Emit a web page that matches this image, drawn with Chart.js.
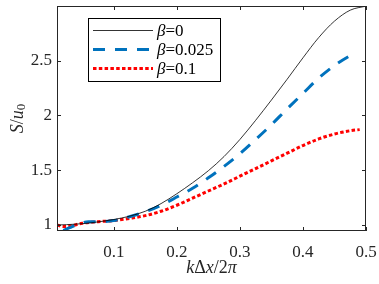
<!DOCTYPE html>
<html>
<head>
<meta charset="utf-8">
<script src="https://cdn.jsdelivr.net/npm/chart.js@4.4.0/dist/chart.umd.min.js"></script>
<style>
  html, body { margin: 0; padding: 0; background: #fff; }
  #wrap { width: 379px; height: 284px; }
</style>
</head>
<body>
<div id="wrap"><canvas id="chart"></canvas></div>
<script>
// k*dx/2pi sample positions and S/u0 values
const xBlack = [0.01, 0.025, 0.05, 0.075, 0.1, 0.125, 0.15, 0.175, 0.2, 0.225, 0.25, 0.275, 0.3, 0.325, 0.35, 0.375, 0.4, 0.425, 0.45, 0.475, 0.5];
const beta0 = [1.00, 1.003, 1.012, 1.028, 1.05, 1.08, 1.125, 1.195, 1.285, 1.385, 1.495, 1.625, 1.78, 1.955, 2.14, 2.33, 2.525, 2.71, 2.86, 2.96, 2.997];

const xBlue = [0.02, 0.03, 0.045, 0.06, 0.075, 0.1, 0.125, 0.15, 0.175, 0.2, 0.225, 0.25, 0.275, 0.3, 0.325, 0.35, 0.375, 0.4, 0.425, 0.45, 0.475, 0.48];
const beta025 = [0.95, 0.975, 1.01, 1.03, 1.03, 1.04, 1.075, 1.12, 1.18, 1.255, 1.335, 1.43, 1.535, 1.65, 1.78, 1.915, 2.06, 2.20, 2.34, 2.455, 2.545, 2.56];

const xRed = [0.01, 0.02, 0.03, 0.05, 0.075, 0.1, 0.125, 0.15, 0.175, 0.2, 0.225, 0.25, 0.275, 0.3, 0.325, 0.35, 0.375, 0.4, 0.425, 0.45, 0.475, 0.49];
const beta1 = [1.0, 0.985, 0.99, 1.015, 1.03, 1.04, 1.06, 1.085, 1.125, 1.18, 1.245, 1.31, 1.375, 1.445, 1.515, 1.585, 1.655, 1.725, 1.785, 1.83, 1.86, 1.87];

const legendLabels = ['0', '0.025', '0.1'];
const xTicks = [0.1, 0.2, 0.3, 0.4, 0.5];
const yTicks = [1, 1.5, 2, 2.5];

const SERIF = '"Liberation Serif"';
const AXIS_COLOR = '#262626';

function pts(xs, ys) {
  return xs.map((x, i) => ({ x: x, y: ys[i] }));
}

// draw a run of text pieces with mixed italic / upright styles
function drawPieces(ctx, pieces, x, y, size, align) {
  let total = 0;
  pieces.forEach(p => {
    ctx.font = (p.it ? 'italic ' : '') + Math.round(p.sub ? size * 0.7 : size) + 'px ' + SERIF;
    p.w = ctx.measureText(p.t).width;
    total += p.w;
  });
  let cx = align === 'center' ? x - total / 2 : x;
  pieces.forEach(p => {
    ctx.font = (p.it ? 'italic ' : '') + Math.round(p.sub ? size * 0.7 : size) + 'px ' + SERIF;
    ctx.fillText(p.t, cx, p.sub ? y + size * 0.22 : y);
    cx += p.w;
  });
}

const framePlugin = {
  id: 'frame',
  afterDatasetsDraw(chart) {
    const { ctx, chartArea: { left, right, top, bottom }, scales: { x, y } } = chart;
    ctx.save();
    ctx.strokeStyle = AXIS_COLOR;
    ctx.lineWidth = 1;
    ctx.strokeRect(left + 0.5, top + 0.5, right - left - 1, bottom - top - 1);
    ctx.beginPath();
    xTicks.forEach(v => {
      const px = Math.round(x.getPixelForValue(v)) + 0.5;
      ctx.moveTo(px, bottom); ctx.lineTo(px, bottom - 4);
      ctx.moveTo(px, top); ctx.lineTo(px, top + 4);
    });
    yTicks.forEach(v => {
      const py = Math.round(y.getPixelForValue(v)) + 0.5;
      ctx.moveTo(left, py); ctx.lineTo(left + 4, py);
      ctx.moveTo(right, py); ctx.lineTo(right - 4, py);
    });
    ctx.stroke();

    // legend box
    const lx = left + 31, ly = top + 12, lw = 132, lh = 63;
    ctx.fillStyle = '#fff';
    ctx.fillRect(lx, ly, lw, lh);
    ctx.strokeStyle = '#000';
    ctx.lineWidth = 1;
    ctx.strokeRect(lx + 0.5, ly + 0.5, lw, lh);
    chart.data.datasets.forEach((ds, i) => {
      const ry = ly + 12.5 + i * 19;
      ctx.save();
      ctx.strokeStyle = ds.borderColor;
      ctx.lineWidth = ds.borderWidth;
      ctx.setLineDash(ds.borderDash || []);
      ctx.beginPath();
      ctx.moveTo(lx + 5, ry);
      ctx.lineTo(lx + 65, ry);
      ctx.stroke();
      ctx.restore();
      ctx.fillStyle = '#000';
      ctx.textBaseline = 'middle';
      drawPieces(ctx, [{ t: 'β', it: true }, { t: '=' + legendLabels[i] }], lx + 69, ry + 1, 17, 'left');
    });

    // axis titles
    ctx.fillStyle = AXIS_COLOR;
    ctx.textBaseline = 'middle';
    drawPieces(ctx, [{ t: 'k', it: true }, { t: 'Δ' }, { t: 'x', it: true }, { t: '/2' }, { t: 'π', it: true }],
      (left + right) / 2, 268, 18, 'center');
    ctx.save();
    ctx.translate(18, (top + bottom) / 2);
    ctx.rotate(-Math.PI / 2);
    drawPieces(ctx, [{ t: 'S', it: true }, { t: '/' }, { t: 'u', it: true }, { t: '0', sub: true }], 0, 0, 18, 'center');
    ctx.restore();
    ctx.restore();
  }
};

function noPad(s) {
  s.paddingLeft = 0; s.paddingRight = 0; s.paddingTop = 0; s.paddingBottom = 0;
}

const ctx = document.getElementById('chart').getContext('2d');
new Chart(ctx, {
  type: 'line',
  data: {
    datasets: [
      { label: 'β=0', data: pts(xBlack, beta0), borderColor: '#000000', borderWidth: 0.8 },
      { label: 'β=0.025', data: pts(xBlue, beta025), borderColor: 'rgb(0,114,189)', borderWidth: 3, borderDash: [12, 10] },
      { label: 'β=0.1', data: pts(xRed, beta1), borderColor: 'rgb(255,0,0)', borderWidth: 3, borderDash: [3.5, 2.3] }
    ]
  },
  options: {
    responsive: true,
    maintainAspectRatio: false,
    animation: false,
    layout: { padding: { top: 6, right: 13, left: 0, bottom: 0 } },
    elements: {
      point: { radius: 0 },
      line: { cubicInterpolationMode: 'monotone', borderCapStyle: 'butt' }
    },
    plugins: {
      legend: { display: false },
      tooltip: { enabled: false }
    },
    scales: {
      x: {
        type: 'linear',
        min: 0.01,
        max: 0.5,
        afterBuildTicks: s => { s.ticks = xTicks.map(v => ({ value: v })); },
        afterFit: s => { s.height = 53; noPad(s); },
        grid: { display: false, drawTicks: false },
        border: { display: false },
        ticks: {
          padding: 11,
          color: AXIS_COLOR,
          font: { family: SERIF, size: 17 },
          maxRotation: 0,
          autoSkip: false,
          callback: v => String(v)
        }
      },
      y: {
        type: 'linear',
        min: 0.945,
        max: 2.998,
        afterBuildTicks: s => { s.ticks = yTicks.map(v => ({ value: v })); },
        afterFit: s => { s.width = 57; noPad(s); },
        grid: { display: false, drawTicks: false },
        border: { display: false },
        ticks: {
          padding: 5,
          color: AXIS_COLOR,
          font: { family: SERIF, size: 17 },
          autoSkip: false,
          callback: v => String(v)
        }
      }
    }
  },
  plugins: [framePlugin]
});
</script>
</body>
</html>
